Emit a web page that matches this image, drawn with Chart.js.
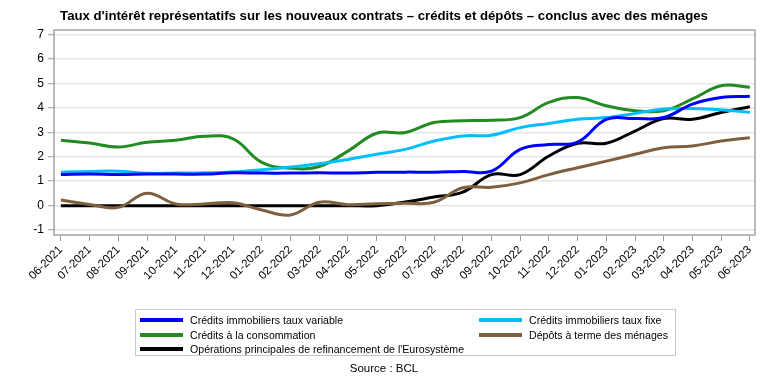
<!DOCTYPE html>
<html>
<head>
<meta charset="utf-8">
<script src="https://cdn.jsdelivr.net/npm/chart.js@4.4.0/dist/chart.umd.min.js"></script>
<style>
  body { margin:0; background:#fff; }
  #wrap { position:relative; width:768px; height:384px; font-family:"Liberation Sans", Arial, sans-serif; }
  #title { position:absolute; left:0; width:768px; top:8px; text-align:center; font-weight:bold; font-size:13.2px; color:#000; }
  #legend { position:absolute; left:135px; top:309px; width:541px; height:47px; border:1px solid #c8c8c8; box-sizing:border-box; font-size:10.6px; color:#000; }
  .item { position:absolute; height:14px; line-height:14px; white-space:nowrap; }
  .item span.sw { position:absolute; left:0; top:5px; width:43px; height:4px; }
  .item span.tx { position:absolute; left:50px; top:0; }
  #source { position:absolute; left:0; width:768px; top:362px; text-align:center; font-size:11.5px; color:#000; }
</style>
</head>
<body>
<div id="wrap">
  <canvas id="c" width="768" height="384"></canvas>
  <div id="title">Taux d'intérêt représentatifs sur les nouveaux contrats – crédits et dépôts – conclus avec des ménages</div>
  <div id="legend"></div>
  <div id="source">Source : BCL</div>
</div>
<script>
const months = ["06-2021","07-2021","08-2021","09-2021","10-2021","11-2021","12-2021","01-2022","02-2022","03-2022","04-2022","05-2022","06-2022","07-2022","08-2022","09-2022","10-2022","11-2022","12-2022","01-2023","02-2023","03-2023","04-2023","05-2023","06-2023"];
const yTicks = [-1,0,1,2,3,4,5,6,7];

const seriesNames = ["Crédits immobiliers taux variable","Crédits immobiliers taux fixe","Crédits à la consommation","Dépôts à terme des ménages","Opérations principales de refinancement de l'Eurosystème"];
const creditsVariable = [1.27,1.29,1.27,1.29,1.29,1.29,1.34,1.33,1.33,1.34,1.33,1.36,1.37,1.37,1.40,1.41,2.30,2.50,2.60,3.53,3.56,3.60,4.15,4.42,4.47];
const creditsFixe = [1.37,1.40,1.41,1.32,1.33,1.34,1.38,1.47,1.58,1.71,1.89,2.10,2.30,2.64,2.85,2.88,3.19,3.36,3.53,3.60,3.77,3.95,3.97,3.92,3.81];
const creditsConso = [2.67,2.56,2.40,2.59,2.67,2.84,2.73,1.77,1.53,1.60,2.23,2.96,2.99,3.40,3.47,3.49,3.60,4.22,4.42,4.08,3.88,3.88,4.36,4.90,4.84];
const depotsTerme = [0.23,0.05,-0.07,0.51,0.07,0.07,0.12,-0.18,-0.38,0.14,0.04,0.08,0.10,0.14,0.73,0.75,0.93,1.27,1.55,1.82,2.10,2.37,2.44,2.64,2.78];
const refiEuro = [0,0,0,0,0,0,0,0,0,0,0,0,0.15,0.35,0.55,1.27,1.27,2.03,2.55,2.55,3.05,3.56,3.53,3.81,4.04];

const colors = ["#0000ff","#00bfff","#228b22","#7f5f3f","#000000"];
const allSeries = [creditsVariable, creditsFixe, creditsConso, depotsTerme, refiEuro];

const datasets = allSeries.map((arr, k) => ({
  label: seriesNames[k],
  data: arr.map((v, i) => ({x: i, y: v})),
  borderColor: colors[k],
  backgroundColor: colors[k],
  borderWidth: 3,
  pointRadius: 0,
  tension: 0.4,
  fill: false
}));

// HTML legend
const legendPos = [[4,3],[343,3],[4,17.5],[343,17.5],[4,32]];
const leg = document.getElementById('legend');
seriesNames.forEach((n, k) => {
  const d = document.createElement('div');
  d.className = 'item';
  d.style.left = legendPos[k][0] + 'px';
  d.style.top = legendPos[k][1] + 'px';
  d.innerHTML = '<span class="sw" style="background:' + colors[k] + '"></span><span class="tx">' + n + '</span>';
  leg.appendChild(d);
});

const frame = {
  id: 'frame',
  afterDraw(chart) {
    const a = chart.chartArea, ctx = chart.ctx;
    ctx.save();
    ctx.strokeStyle = '#a0a4a8';
    ctx.lineWidth = 1.5;
    ctx.strokeRect(a.left, a.top, a.right - a.left, a.bottom - a.top);
    ctx.restore();
  }
};

new Chart(document.getElementById('c'), {
  type: 'line',
  data: { datasets },
  plugins: [frame],
  options: {
    responsive: false,
    animation: false,
    layout: { padding: { left: 0, top: 30, right: 13, bottom: 89 } },
    plugins: { legend: { display: false }, title: { display: false }, tooltip: { enabled: false } },
    scales: {
      x: {
        type: 'linear',
        min: -0.24,
        max: 24.18,
        afterBuildTicks(s) { s.ticks = months.map((m, i) => ({ value: i })); },
        afterFit(s) { s.height = 60; },
        ticks: {
          autoSkip: false,
          minRotation: 45,
          maxRotation: 45,
          padding: 2,
          color: '#000',
          font: { family: 'Liberation Sans', size: 11.5 },
          callback: (v) => months[v]
        },
        grid: { drawOnChartArea: false, drawTicks: true, tickLength: 6, color: '#9a9ea2', lineWidth: 1 },
        border: { display: false }
      },
      y: {
        min: -1.2,
        max: 7.18,
        afterBuildTicks(s) { s.ticks = yTicks.map(v => ({ value: v })); },
        afterFit(s) { s.width = 54; },
        ticks: {
          padding: 4,
          color: '#000',
          font: { family: 'Liberation Sans', size: 12 }
        },
        grid: { color: '#e6e6e6', lineWidth: 1.5, tickLength: 6, tickColor: '#9a9ea2', tickWidth: 1 },
        border: { display: false }
      }
    }
  }
});
</script>
</body>
</html>
